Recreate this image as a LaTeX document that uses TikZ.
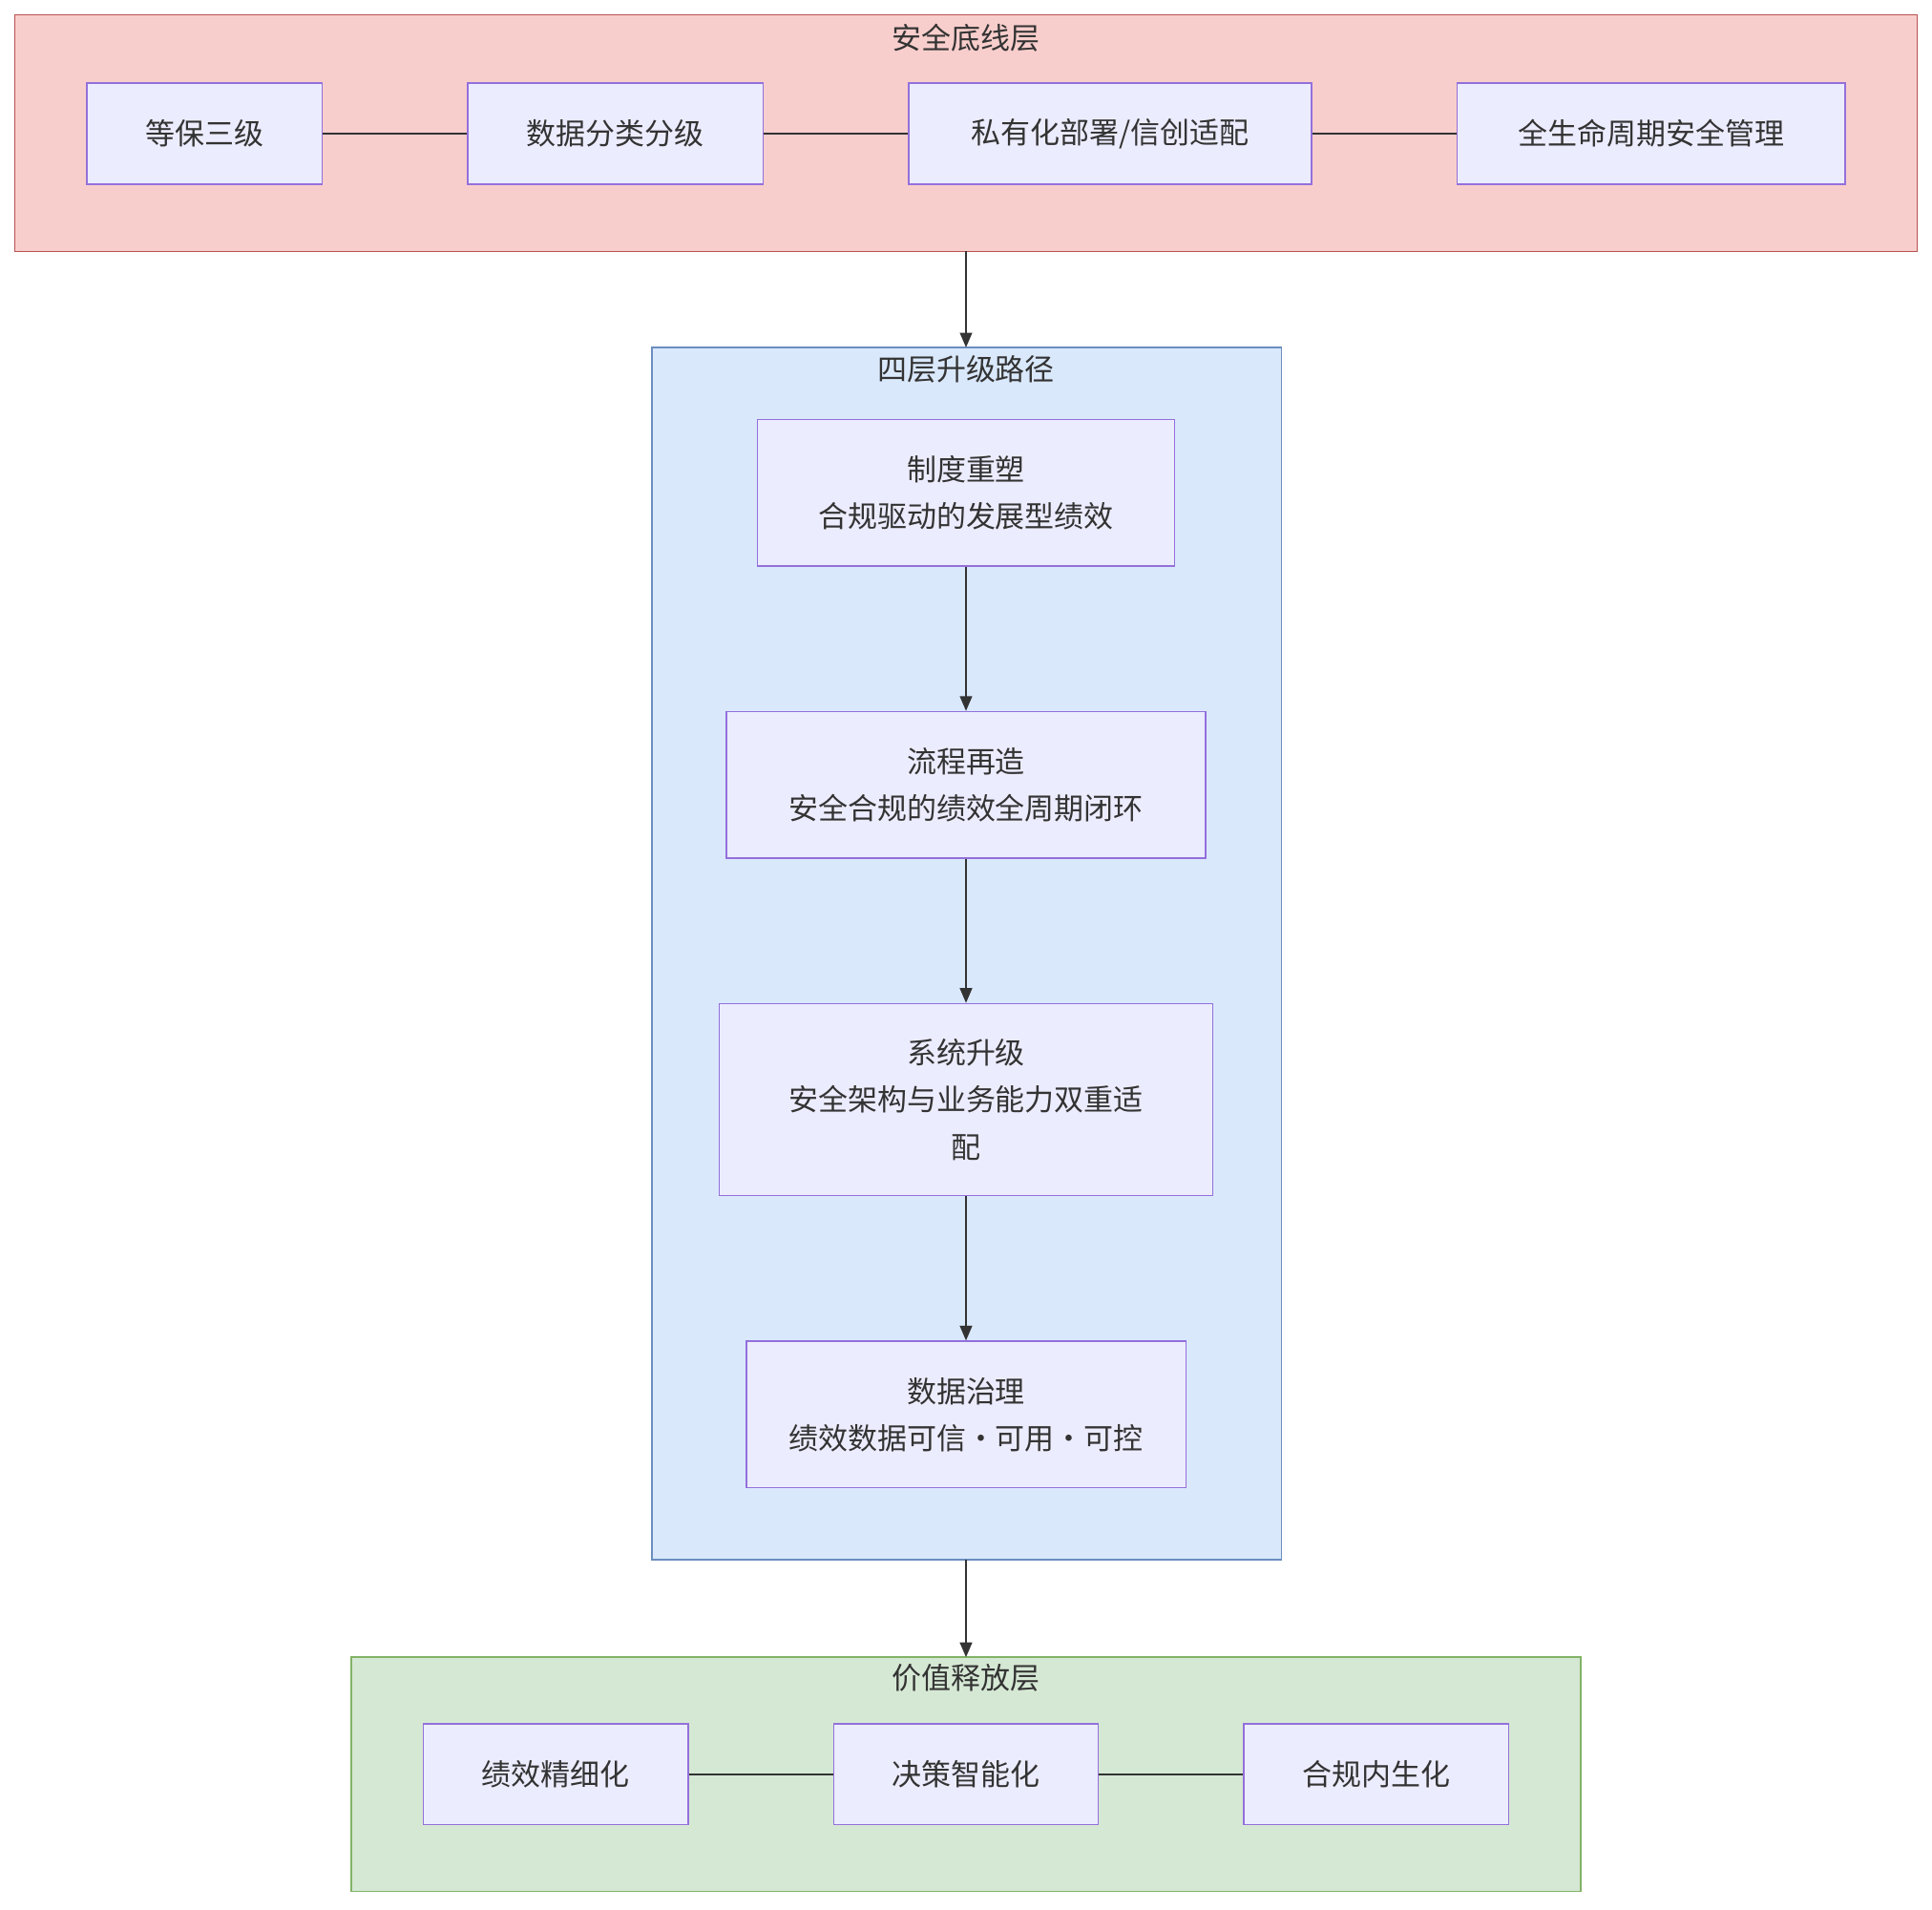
\documentclass[tikz,border=0pt]{standalone}
\usepackage{fontspec}
\setmainfont{Noto Sans CJK SC}
\usetikzlibrary{arrows.meta}
\definecolor{nfill}{HTML}{ECECFF}
\definecolor{nstroke}{HTML}{9370DB}
\definecolor{txt}{HTML}{333333}
\tikzset{
 box/.style={draw=nstroke, fill=nfill, line width=0.6pt, text=txt, align=center, inner sep=0pt, font=\fontsize{12}{19}\selectfont},
 grp/.style={line width=0.6pt},
 gtitle/.style={text=txt, font=\fontsize{12}{14}\selectfont},
 link/.style={draw=txt, line width=0.6pt},
 arr/.style={link, -{Triangle[length=6pt,width=5pt]}}
}
\newcommand{\bx}[6]{\node[box, minimum width=#3*0.5pt-0.6pt, minimum height=#4*0.5pt-0.6pt] (#1) at ({(#2+#3/2)},{#5}) {#6};}
\begin{document}
\begin{tikzpicture}[x=0.5pt,y=-0.5pt]
\useasboundingbox (0,0) rectangle (1568,1550);
% groups
\draw[grp, draw=red!70!black, fill=red!20!white!90!orange, fill={rgb,255:red,248;green,206;blue,204}, draw={rgb,255:red,184;green,84;blue,80}] (12,12) rectangle (1556,204);
\node[gtitle] (t1) at (784,31) {安全底线层};
\draw[grp, fill={rgb,255:red,218;green,232;blue,252}, draw={rgb,255:red,108;green,142;blue,191}] (529,282) rectangle (1040,1266);
\node[gtitle] (t2) at (784,300) {四层升级路径};
\draw[grp, fill={rgb,255:red,213;green,232;blue,212}, draw={rgb,255:red,130;green,179;blue,102}] (285,1345) rectangle (1283,1535);
\node[gtitle] (t3) at (784,1362) {价值释放层};
\coordinate (g1b) at (784,204);
\coordinate (g2t) at (784,282);
\coordinate (g2b) at (784,1266);
\coordinate (g3t) at (784,1345);
% row 1
\bx{a1}{70}{192}{83}{108.5}{等保三级}
\bx{a2}{379}{241}{83}{108.5}{数据分类分级}
\bx{a3}{737}{328}{83}{108.5}{私有化部署/信创适配}
\bx{a4}{1182}{316}{83}{108.5}{全生命周期安全管理}
\draw[link] (a1) -- (a2); \draw[link] (a2) -- (a3); \draw[link] (a3) -- (a4);
% middle
\bx{b1}{614}{340}{120}{400}{制度重塑\\合规驱动的发展型绩效}
\bx{b2}{589}{390}{120}{637}{流程再造\\安全合规的绩效全周期闭环}
\bx{b3}{583}{402}{157}{892.5}{系统升级\\安全架构与业务能力双重适\\配}
\bx{b4}{605}{358}{120}{1148}{数据治理\\绩效数据可信·可用·可控}
\draw[arr] (b1) -- (b2); \draw[arr] (b2) -- (b3); \draw[arr] (b3) -- (b4);
% row 3
\bx{c1}{343}{216}{83}{1440}{绩效精细化}
\bx{c2}{676}{216}{83}{1440}{决策智能化}
\bx{c3}{1009}{216}{83}{1440}{合规内生化}
\draw[link] (c1) -- (c2); \draw[link] (c2) -- (c3);
\draw[arr] (g1b) -- (g2t);
\draw[arr] (g2b) -- (g3t);
\end{tikzpicture}
\end{document}
